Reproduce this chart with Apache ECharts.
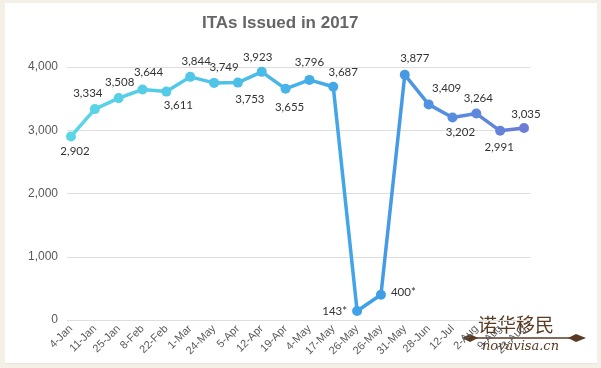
<!DOCTYPE html>
<html>
<head>
<meta charset="utf-8">
<script src="https://cdn.jsdelivr.net/npm/echarts@6/dist/echarts.min.js"></script>
<style>
html,body{margin:0;padding:0;background:#f4f0e7;width:601px;height:368px;overflow:hidden;}
#panel{position:absolute;left:5px;top:3px;width:592px;height:360px;background:#ffffff;border-bottom:1px solid #ebe7df;}
#chart{position:absolute;left:0;top:0;width:601px;height:368px;}
</style>
</head>
<body>
<div id="panel"></div>
<div id="chart"></div>
<script>
// ---- data ----
const titleText = 'ITAs Issued in 2017';
const categories = ['4-Jan','11-Jan','25-Jan','8-Feb','22-Feb','1-Mar','24-May','5-Apr','12-Apr','19-Apr','4-May','17-May','26-May','26-May','31-May','28-Jun','12-Jul','2-Aug','9-Aug','23-Aug'];
const itaValues = [2902,3334,3508,3644,3611,3844,3749,3753,3923,3655,3796,3687,143,400,3877,3409,3202,3264,2991,3035];
const valueNotes = ['','','','','','','','','','','','','*','*','','','','','',''];
const yTicks = [0,1000,2000,3000,4000];

// ---- label placement (style) ----
const labelPos = ['bottom','top','top','top','bottom','top','top','bottom','top','bottom','top','top','left','right','top','top','bottom','top','bottom','top'];
const labelOff = [[4,-1],[-7,0],[1,0],[6,-1],[12,-2],[6,0],[10,0],[12,1],[-4,1],[4,2],[0,-2],[10,1],[0,0],[0,-2],[10,0],[18,0],[8,-1],[2,1],[-1,0],[2,2]];

const fmt = v => v.toLocaleString('en-US');

const seriesData = itaValues.map((v, i) => ({
  value: v,
  label: { position: labelPos[i], offset: labelOff[i] }
}));

const chart = echarts.init(document.getElementById('chart'), null, {renderer: 'canvas'});
chart.setOption({
  backgroundColor: 'transparent',
  animation: false,
  title: {
    text: titleText,
    left: 202, top: 15, padding: 0,
    textStyle: {fontFamily: 'Liberation Sans, Arial, sans-serif', fontWeight: 'bold', fontSize: 17, color: '#666666'}
  },
  grid: [
    {left: 67, right: 71, top: 67, bottom: 48},
    {left: 71, right: 77, top: 67, bottom: 48}
  ],
  xAxis: [
    {gridIndex: 0, type: 'value', min: 0, max: 1, show: false},
    {
      gridIndex: 1, type: 'category', data: categories, boundaryGap: false,
      axisLine: {show: false}, axisTick: {show: false},
      axisLabel: {rotate: 45, interval: 0, margin: 7, fontSize: 11, color: '#595959', fontFamily: 'Liberation Sans, Arial, sans-serif'}
    }
  ],
  yAxis: [
    {
      gridIndex: 0, type: 'value', min: yTicks[0], max: yTicks[yTicks.length-1], interval: 1000,
      axisLine: {show: false}, axisTick: {show: false},
      splitLine: {lineStyle: {color: '#dedede', width: 1}},
      axisLabel: {margin: 9, fontSize: 12, color: '#595959', fontFamily: 'Liberation Sans, Arial, sans-serif', formatter: v => fmt(v)}
    },
    {gridIndex: 1, type: 'value', min: yTicks[0], max: yTicks[yTicks.length-1], interval: 1000, show: false}
  ],
  visualMap: {
    show: false, type: 'continuous', seriesIndex: 0, dimension: 0, min: 0, max: categories.length - 1,
    inRange: {color: ['#5bd6e6', '#4ec3e7', '#3f9fe7', '#6b7dd7']}
  },
  series: [{
    type: 'line', xAxisIndex: 1, yAxisIndex: 1,
    data: seriesData,
    symbol: 'circle', symbolSize: 10,
    lineStyle: {width: 3.5},
    label: {
      show: true, fontSize: 11.5, color: '#333333', fontFamily: 'Lato, sans-serif',
      formatter: p => fmt(p.value) + valueNotes[p.dataIndex]
    }
  }],
  graphic: [
    {type: 'group', left: 462, top: 315, z: 100, children: [
      {type: 'text', left: 16, top: 0, style: {text: '诺华移民', font: '19px "Noto Sans CJK SC"', fill: '#5a3a22'}},
      {type: 'line', shape: {x1: 4, y1: 23, x2: 118, y2: 23}, style: {stroke: '#5a3a22', lineWidth: 1.5}},
      {type: 'polygon', shape: {points: [[0,23],[8,19],[16,23],[8,27]]}, style: {fill: '#5a3a22'}},
      {type: 'polygon', shape: {points: [[106,23],[114,19],[124,23],[114,27]]}, style: {fill: '#5a3a22'}},
      {type: 'text', left: 20, top: 25, style: {text: 'novavisa.cn', font: 'italic 13px "DejaVu Serif"', fill: '#5a3a22'}}
    ]}
  ]
});
</script>
</body>
</html>
